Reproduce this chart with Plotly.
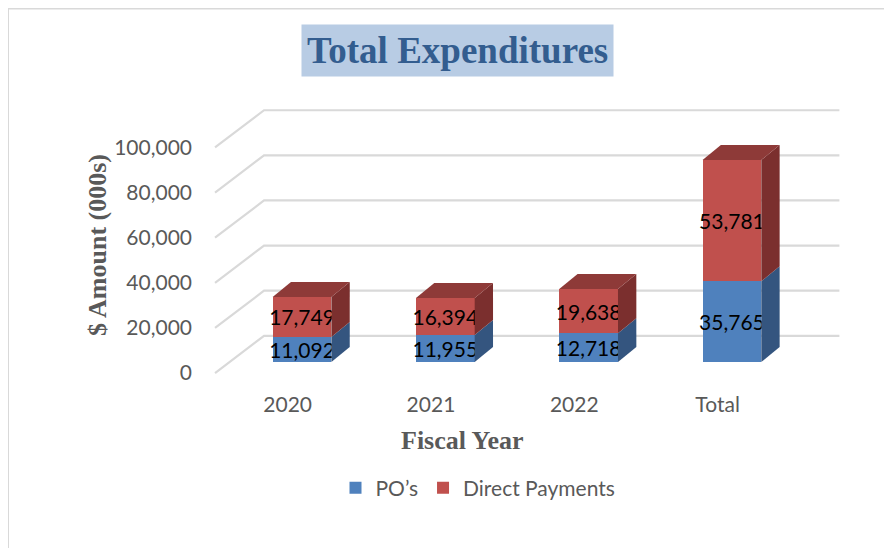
import plotly.graph_objects as go

# ---- data ----
categories = ["2020", "2021", "2022", "Total"]
po_values = [11092, 11955, 12718, 35765]
direct_values = [17749, 16394, 19638, 53781]
y_ticks = [0, 20000, 40000, 60000, 80000, 100000]
y_tick_labels = ["0", "20,000", "40,000", "60,000", "80,000", "100,000"]

# ---- styling / pseudo-3D geometry constants ----
BLUE = "#4F81BD"
RED = "#C0504D"
BLUE_SIDE = "#34557F"
RED_SIDE = "#7B2F2E"
RED_TOP = "#8E3A38"
GRID = "#D9D9D9"
TXT = "#595959"
FONT = "Lato"
FS = 21

BAR_W = 0.41          # bar width (category units)
DEPTH_X = 0.128       # depth offset in x (category units)
DEPTH_Y = 6650        # depth offset in y (value units)
WALL_X0 = -0.265      # back wall start
WALL_X1 = 3.75        # back wall end
FLOOR_X0 = -0.607     # front edge of the floor
BACK_OFF = 11600      # back-wall offset (value units)
FRONT_OFF = -4880     # front-plane offset (value units)

# plot-area geometry (target pixels); page body adds an 8px offset
PAGE = 8
L, T = 206, 100
PW, PH = 644, 290
B_EDGE = T + PH  # 390

xs = list(range(len(categories)))

fig = go.Figure()

# 3D side and top faces computed from data
for i, x in enumerate(xs):
    x1 = x + BAR_W / 2
    x0 = x - BAR_W / 2
    segs = [(0, po_values[i], BLUE_SIDE),
            (po_values[i], po_values[i] + direct_values[i], RED_SIDE)]
    for lo, hi, col in segs:
        fig.add_trace(go.Scatter(
            x=[x1, x1 + DEPTH_X, x1 + DEPTH_X, x1, x1],
            y=[lo, lo + DEPTH_Y, hi + DEPTH_Y, hi, lo],
            fill="toself", fillcolor=col, mode="lines",
            line=dict(width=0, color=col),
            hoverinfo="skip", showlegend=False))
    top = po_values[i] + direct_values[i]
    fig.add_trace(go.Scatter(
        x=[x0, x0 + DEPTH_X, x1 + DEPTH_X, x1, x0],
        y=[top, top + DEPTH_Y, top + DEPTH_Y, top, top],
        fill="toself", fillcolor=RED_TOP, mode="lines",
        line=dict(width=0, color=RED_TOP),
        hoverinfo="skip", showlegend=False))

# front faces
for vals, name, col in [(po_values, "PO\u2019s", BLUE), (direct_values, "Direct Payments", RED)]:
    fig.add_trace(go.Bar(
        x=xs, y=vals, name=name, marker=dict(color=col, line=dict(width=0)),
        width=BAR_W, text=[f"{v:,}" for v in vals], textposition="inside",
        insidetextanchor="middle", textangle=0, constraintext="none",
        textfont=dict(color="black", size=FS, family=FONT)))

# gridlines (side-wall diagonal + back wall), drawn below the bars
shapes = []
for g in y_ticks:
    shapes.append(dict(type="path", xref="x", yref="y", layer="below",
                       path=f"M{FLOOR_X0},{g + FRONT_OFF} L{WALL_X0},{g + BACK_OFF} L{WALL_X1},{g + BACK_OFF}",
                       line=dict(color=GRID, width=2.2)))
# outer chart border (top and left)
shapes.append(dict(type="line", xref="paper", yref="paper",
                   x0=(8 - L) / PW, x1=(900 - L) / PW,
                   y0=(B_EDGE - 8.5) / PH, y1=(B_EDGE - 8.5) / PH,
                   line=dict(color=GRID, width=2)))
shapes.append(dict(type="line", xref="paper", yref="paper",
                   x0=(8 - L) / PW, x1=(8 - L) / PW,
                   y0=(B_EDGE - 8.5) / PH, y1=(B_EDGE - 560) / PH,
                   line=dict(color=GRID, width=2)))

fig.update_layout(
    width=892, height=548,
    barmode="stack",
    paper_bgcolor="white", plot_bgcolor="white",
    margin=dict(l=L - PAGE, r=892 - (L - PAGE) - PW, t=T - PAGE, b=548 - (T - PAGE) - PH,
                autoexpand=False),
    font=dict(family=FONT, color=TXT, size=FS),
    showlegend=True,
    legend=dict(orientation="h", xref="container", yref="container",
                x=(478 - PAGE) / 892, xanchor="center", y=1 - (488 - PAGE) / 548, yanchor="middle",
                font=dict(size=FS, color=TXT, family=FONT),
                traceorder="normal", itemwidth=30),
    xaxis=dict(range=[-0.67, 3.824], tickvals=[x - 0.1 for x in xs], ticktext=categories,
               showgrid=False, zeroline=False, showline=False, ticks="", automargin=False,
               tickfont=dict(size=FS, color=TXT, family=FONT), fixedrange=True),
    yaxis=dict(range=[-12411, 116135], tickvals=[t + FRONT_OFF for t in y_ticks],
               ticktext=y_tick_labels, showgrid=False, zeroline=False, showline=False,
               ticks="", automargin=False, ticklabelstandoff=13,
               tickfont=dict(size=FS, color=TXT, family=FONT),
               title=dict(text="<b>$ Amount (000s)</b>", standoff=0,
                          font=dict(family="Liberation Serif", size=26, color=TXT))),
    annotations=[
        dict(text="<b>Total Expenditures</b>", xref="paper", yref="paper",
             x=(457 - L) / PW, y=(B_EDGE - 50) / PH, xanchor="center", yanchor="middle",
             showarrow=False, bgcolor="#B8CCE4", borderpad=5,
             font=dict(family="Liberation Serif", size=37, color="#335D8F")),
        dict(text="<b>Fiscal Year</b>", xref="paper", yref="paper",
             x=(462 - L) / PW, y=(B_EDGE - 440) / PH, xanchor="center", yanchor="middle",
             showarrow=False, font=dict(family="Liberation Serif", size=26, color=TXT)),
    ],
    shapes=shapes,
)

fig.write_html("out.html")
